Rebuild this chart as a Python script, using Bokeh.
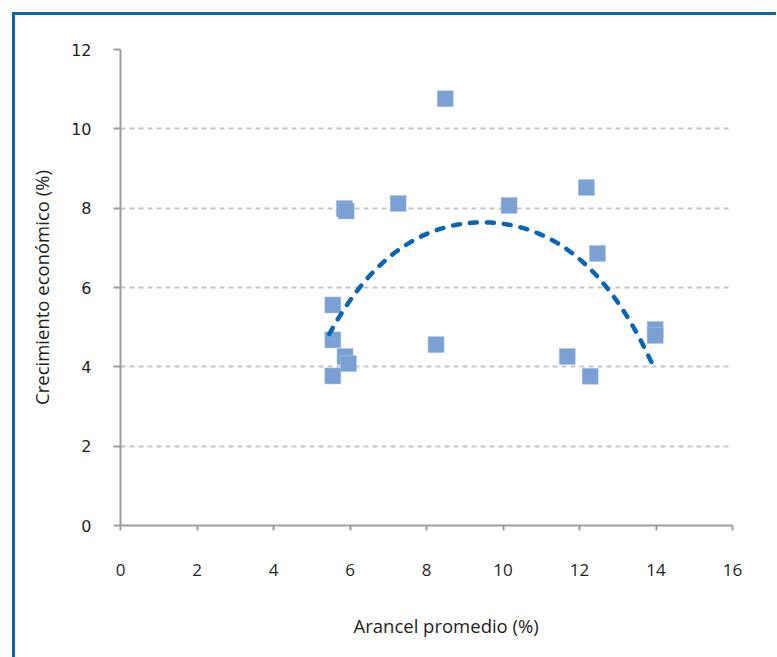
import numpy as np
from bokeh.plotting import figure
from bokeh.models import Range1d, FixedTicker, Title
from bokeh.embed import file_html
from bokeh.resources import INLINE

# Data
arancel = [8.49, 12.18, 7.26, 5.85, 5.90, 10.16, 12.47, 5.55, 5.55, 5.87, 5.96,
           5.55, 8.25, 11.68, 12.28, 13.98, 13.98]
crecimiento = [10.76, 8.52, 8.12, 7.99, 7.93, 8.07, 6.86, 5.56, 4.68, 4.26, 4.08,
               3.77, 4.56, 4.26, 3.76, 4.94, 4.79]

# Trend line points (dashed polynomial trend)
trend_x = [5.46, 6.29, 7.08, 8.30, 9.37, 10.39, 11.70, 12.57, 13.44, 13.95]
trend_y = [4.85, 6.02, 6.76, 7.52, 7.67, 7.52, 6.89, 6.09, 5.17, 3.85]

x_ticks = [0, 2, 4, 6, 8, 10, 12, 14, 16]
y_ticks = [0, 2, 4, 6, 8, 10, 12]
x_title = "Arancel promedio (%)"
y_title = "Crecimiento económico (%)"

p = figure(frame_width=612, frame_height=476,
           x_range=Range1d(0, 16), y_range=Range1d(0, 12),
           output_backend="svg", toolbar_location=None,
           min_border_left=105, min_border_top=34,
           min_border_right=44, min_border_bottom=131)
p.styles = {"border-left": "3px solid #0b64b0", "border-top": "3px solid #0b64b0",
            "margin-left": "12px", "margin-top": "12px",
            "margin-bottom": "-40px"}
p.outline_line_color = None
p.background_fill_color = "white"
p.border_fill_color = "white"

# grid
p.xgrid.grid_line_color = None
p.ygrid.ticker = FixedTicker(ticks=y_ticks[1:])
p.ygrid.grid_line_color = "#c6c6c6"
p.ygrid.grid_line_width = 2
p.ygrid.grid_line_dash = "5 4"

# axes
for ax in (p.xaxis[0], p.yaxis[0]):
    ax.axis_line_color = "#9e9e9e"
    ax.axis_line_width = 2
    ax.major_tick_line_color = "#9e9e9e"
    ax.major_tick_line_width = 2
    ax.minor_tick_line_color = None
    ax.major_tick_in = 0
    ax.major_label_text_color = "#231f20"

p.xaxis.ticker = FixedTicker(ticks=x_ticks)
p.yaxis.ticker = FixedTicker(ticks=y_ticks)
p.xaxis.major_tick_out = 5
p.yaxis.major_tick_out = 7
p.xaxis.major_label_text_font = "Open Sans"
p.xaxis.major_label_text_font_size = "17px"
p.yaxis.major_label_text_font = "DejaVu Sans"
p.yaxis.major_label_text_font_size = "16px"
p.xaxis.major_label_standoff = 33
p.yaxis.major_label_standoff = 22

# y title as axis label
p.yaxis.axis_label = y_title
p.yaxis.axis_label_text_font = "Open Sans"
p.yaxis.axis_label_text_font_size = "18.5px"
p.yaxis.axis_label_text_font_style = "normal"
p.yaxis.axis_label_text_color = "#231f20"
p.yaxis.axis_label_standoff = 14

# x title, shifted right like the reference
p.add_layout(Title(text=x_title, align="left", offset=233, standoff=65,
                   text_font="Open Sans", text_font_size="18.5px",
                   text_font_style="normal", text_color="#231f20"), "below")

# scatter
p.scatter(arancel, crecimiento, marker="square", size=16,
          fill_color="#7ba0d4", line_color="#a9c1e4", line_width=0.5)

# trend line
coef = np.polyfit(trend_x, trend_y, 4)
xs = np.linspace(min(trend_x), max(trend_x), 200)
ys = np.polyval(coef, xs)
p.line(xs, ys, line_color="#0a66b2", line_width=4.5, line_dash="7 10",
       line_cap="round")

open("out.html", "w").write(file_html(p, INLINE))
